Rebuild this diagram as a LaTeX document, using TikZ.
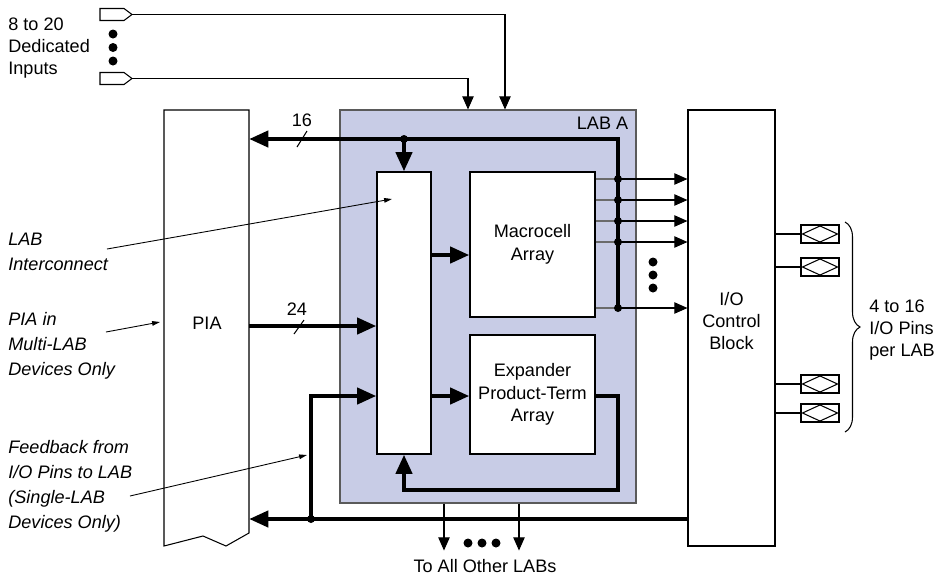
\documentclass[tikz,border=0pt]{standalone}
\usepackage{fontspec}
\setmainfont{Liberation Sans}
\usetikzlibrary{arrows.meta,positioning,decorations.pathreplacing,calc}
\definecolor{labfill}{HTML}{C8CCE6}
\definecolor{edgegray}{HTML}{5A5A5A}
\definecolor{stubgray}{HTML}{6B6B6B}
\tikzset{
  txt/.style={font=\fontsize{10.3}{12.6}\selectfont, inner sep=0pt, align=left},
  itxt/.style={font=\fontsize{10.3}{14.2}\selectfont\itshape, inner sep=0pt, align=left},
  blk/.style={draw, line width=0.6pt, fill=white, inner sep=0pt, align=center,
              font=\fontsize{10.3}{12.8}\selectfont},
  wire/.style={line width=0.6pt},
  sig/.style={wire, -{Triangle[length=7.5pt,width=6.5pt]}},
  bus/.style={line width=2.6pt},
  busarr/.style={bus, -{Triangle[length=11pt,width=9pt]}},
  leader/.style={line width=0.5pt, -{Triangle[length=4.5pt,width=2.6pt]}},
  inpin/.style={minimum width=6.4mm, minimum height=2.4mm, inner sep=0pt, outer sep=0pt},
  iopin/.style={draw, line width=0.6pt, minimum width=7.6mm, minimum height=3.6mm, inner sep=0pt},
  junct/.style={fill=black},
}
\begin{document}
\begin{tikzpicture}[x=0.2mm, y=-0.2mm, line join=miter]
\useasboundingbox (0,0) rectangle (949,576);

% ===================== rows used by the connectors =====================
\path (0,139) coordinate (rowbus) (0,255) coordinate (rowmc) (0,326) coordinate (row24)
      (0,396) coordinate (rowept) (0,490) coordinate (rowret) (0,519) coordinate (rowfb);

% ===================== PIA =====================
\draw[wire, fill=white] (164,110) -- (249,110) -- (249,533) -- (226,546) -- (203,536)
  -- (164,546) -- cycle;
\coordinate (piaedge) at (249,110);
\node[txt] (pia) at (207,323) {PIA};

% ===================== LAB A =====================
\node[draw=edgegray, fill=labfill, line width=0.6pt, minimum width=59.2mm,
      minimum height=78.6mm] (lab) at (488,306.5) {};
\node[txt, anchor=north east] (labname) at ([shift={(-8,7)}]lab.north east) {LAB A};
\node[blk, minimum width=10.8mm, minimum height=56.4mm] (lic) at (404,313) {};
\node[blk, minimum width=25mm, minimum height=29mm] (mc) at (532.5,244.5) {Macrocell\\Array};
\node[blk, minimum width=25mm, minimum height=23.8mm] (ept) at (532.5,394.5)
  {Expander\\Product-Term\\Array};

% ===================== I/O control block =====================
\node[draw, line width=0.6pt, minimum width=17.4mm, minimum height=87.2mm] (ioc) at (731.5,328) {};
\node[txt, align=center] (ioctext) at (731.5,321) {I/O\\Control\\Block};

% ===================== dedicated inputs =====================
\foreach \y [count=\i] in {14.5,78.5}{
  \node[inpin] (in\i) at (116,\y) {};
  \draw[wire] (in\i.north west) -- ([xshift=-1.6mm]in\i.north east) -- (in\i.east)
    -- ([xshift=-1.6mm]in\i.south east) -- (in\i.south west) -- cycle;
}
\foreach \y in {34,47.5,61} {\fill (113,\y) circle[radius=0.9mm];}
\node[txt, anchor=west] (inlbl) at (8,48) {8 to 20\\Dedicated\\Inputs};
\draw[sig] (in1.east) -| ([xshift=3.4mm]lab.north);
\draw[sig] (in2.east) -| ([xshift=-4mm]lab.north);

% ===================== macrocell outputs and 16-bit bus =====================
\coordinate (busc) at (618,139);
\foreach \y [count=\i] in {179,200,221,242,308}{
  \coordinate (tap\i) at (618,\y);
  \draw[wire, stubgray] (mc.east |- tap\i) -- (tap\i);
  \draw[sig] (tap\i) -- (ioc.west |- tap\i);
}
\coordinate (ltap) at (lic.north |- busc);
\draw[busarr] (tap5) -- (busc) -- (piaedge |- busc);
\draw[busarr] (ltap) -- (lic.north);
\draw[wire] (297,147) -- (307,131);
\node[txt] (n16) at (302,120) {16};
\foreach \y in {262,275,288} {\fill (653,\y) circle[radius=0.9mm];}

% ===================== PIA to LAB, local arrays =====================
\draw[busarr] (piaedge |- row24) -- (lic.west |- row24);
\draw[wire] (294,334) -- (304,320);
\node[txt] (n24) at (297,309) {24};
\draw[busarr] (lic.east |- rowmc) -- (mc.west |- rowmc);
\draw[busarr] (lic.east |- rowept) -- (ept.west |- rowept);
\draw[busarr] (ept.east |- rowept) -| (tap5 |- rowret) -| (lic.south);

% ===================== feedback from I/O pins =====================
\coordinate (fbtap) at (311,519);
\draw[busarr] (ioc.west |- rowfb) -- (piaedge |- rowfb);
\draw[busarr] (fbtap) |- (lic.west |- rowept);
\foreach \p in {tap1,tap2,tap3,tap4,tap5,ltap,fbtap} {\fill[junct] (\p) circle[radius=0.8mm];}

% ===================== to all other LABs =====================
\draw[sig] ([xshift=-8.8mm]lab.south) -- ++(0,47);
\draw[sig] ([xshift=6.2mm]lab.south) -- ++(0,47);
\foreach \x in {468,482,496} {\fill (\x,543) circle[radius=0.9mm];}
\node[txt] (others) at (485,566) {To All Other LABs};

% ===================== I/O pins =====================
\foreach \y [count=\i] in {234,267,384,413}{
  \node[iopin] (pin\i) at (820,\y) {};
  \draw[wire] ([yshift=-0.3mm]pin\i.north) -- ([xshift=0.4mm]pin\i.west)
    -- ([yshift=0.3mm]pin\i.south) -- ([xshift=-0.4mm]pin\i.east) -- cycle;
  \draw[wire] (ioc.east |- pin\i) -- (pin\i.west);
}
\draw[wire, decorate, decoration={brace, amplitude=3mm}] (845,222) -- (845,432);
\node[txt, anchor=west] (pinlbl) at (869,330) {4 to 16\\I/O Pins\\per LAB};

% ===================== side notes =====================
\node[itxt, anchor=west] (liclbl) at (8,252) {LAB\\Interconnect};
\node[itxt, anchor=west] (pialbl) at (8,346) {PIA in\\Multi-LAB\\Devices Only};
\node[itxt, anchor=west] (fblbl) at (8,486) {Feedback from\\I/O Pins to LAB\\(Single-LAB\\Devices Only)};
\coordinate (licnote) at (107,249);
\coordinate (pianote) at (106,332);
\coordinate (fbnote) at (130,496);
\draw[leader] (licnote) -- (392,199) coordinate (licpt);
\draw[leader] (pianote) -- (160,322) coordinate (piapt);
\draw[leader] (fbnote) -- (307,455) coordinate (fbpt);

\end{tikzpicture}
\end{document}
